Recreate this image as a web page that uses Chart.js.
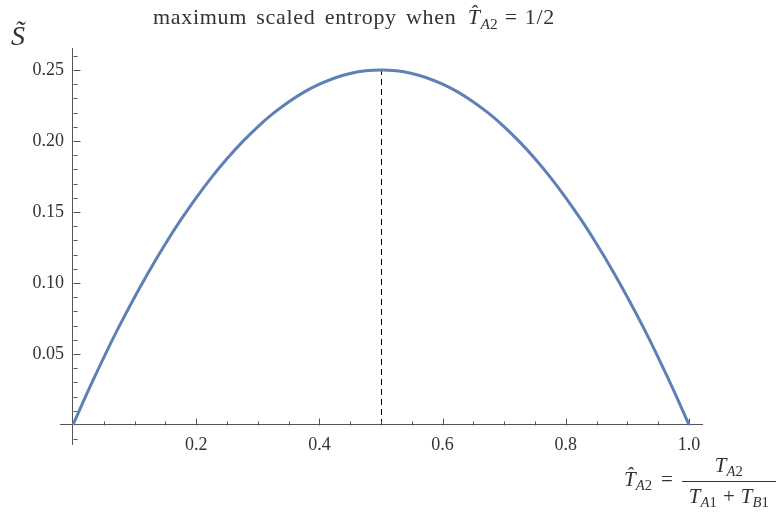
<!DOCTYPE html>
<html>
<head>
<meta charset="utf-8">
<script src="https://cdn.jsdelivr.net/npm/chart.js@4.4.1/dist/chart.umd.min.js"></script>
<style>
  body { margin: 0; background: #fff; }
  #wrap { position: relative; width: 778px; height: 516px; font-family: "Liberation Serif", serif; color: #333; }
  #myChart { position: absolute; left: 0; top: 0; }
  .lbl { position: absolute; white-space: nowrap; }
  .m { font-style: italic; }
  .op { display: inline-block; margin: 0 7px; }
  sub { font-size: 70%; vertical-align: -0.3em; line-height: 0; letter-spacing: 0; }
  .frac { display: inline-block; vertical-align: middle; text-align: center; }
  .frac .num { display: block; padding: 0 7px 3px; }
  .frac .den { display: block; border-top: 1px solid #333; padding: 2px 7px 0; }
</style>
</head>
<body>
<div id="wrap">
  <canvas id="myChart" width="778" height="516"></canvas>
  <div class="lbl" style="left:153px; top:4px; font-size:22px; letter-spacing:0.7px; word-spacing:3px;">maximum scaled entropy when <span class="m" style="margin-left:2px">T̂</span><sub><span class="m">A</span>2</sub><span class="op">=</span>1/2</div>
  <div class="lbl m" style="left:11px; top:20px; font-size:28px;">S̃</div>
  <div class="lbl" style="left:624px; top:453px; font-size:21px;">
    <span class="m">T̂</span><sub><span class="m">A</span>2</sub><span class="op" style="margin:0 9px">=</span><span class="frac"><span class="num"><span class="m">T</span><sub><span class="m">A</span>2</sub></span><span class="den"><span class="m">T</span><sub><span class="m">A</span>1</sub><span class="op" style="margin:0 6px">+</span><span class="m">T</span><sub><span class="m">B</span>1</sub></span></span>
  </div>
</div>
<script>
// values
const xValues = [0, 0.025, 0.05, 0.075, 0.1, 0.125, 0.15, 0.175, 0.2, 0.225, 0.25,
                 0.275, 0.3, 0.325, 0.35, 0.375, 0.4, 0.425, 0.45, 0.475, 0.5,
                 0.525, 0.55, 0.575, 0.6, 0.625, 0.65, 0.675, 0.7, 0.725, 0.75,
                 0.775, 0.8, 0.825, 0.85, 0.875, 0.9, 0.925, 0.95, 0.975, 1.0];
const yValues = [0, 0.0244, 0.0475, 0.0694, 0.09, 0.1094, 0.1275, 0.1444, 0.16, 0.1744, 0.1875,
                 0.1994, 0.21, 0.2194, 0.2275, 0.2344, 0.24, 0.2444, 0.2475, 0.2494, 0.25,
                 0.2494, 0.2475, 0.2444, 0.24, 0.2344, 0.2275, 0.2194, 0.21, 0.1994, 0.1875,
                 0.1744, 0.16, 0.1444, 0.1275, 0.1094, 0.09, 0.0694, 0.0475, 0.0244, 0];
const xTicks = [0, 0.2, 0.4, 0.6, 0.8, 1.0];
const yTicks = [0, 0.05, 0.1, 0.15, 0.2, 0.25];
const peakX = 0.5;
const peakY = 0.25;

const axisColor = '#555';

// dashed marker at the peak + inward tick marks (major and minor)
const tickPlugin = {
  id: 'ticks',
  beforeDatasetsDraw(chart) {
    const {ctx, scales: {x, y}} = chart;
    ctx.save();
    ctx.strokeStyle = '#000';
    ctx.lineWidth = 1;
    ctx.setLineDash([6, 4]);
    ctx.beginPath();
    ctx.moveTo(Math.round(x.getPixelForValue(peakX)) + 0.5, y.getPixelForValue(0));
    ctx.lineTo(Math.round(x.getPixelForValue(peakX)) + 0.5, y.getPixelForValue(peakY));
    ctx.stroke();
    ctx.restore();

    ctx.save();
    ctx.strokeStyle = axisColor;
    ctx.lineWidth = 1;
    const y0 = Math.round(y.getPixelForValue(0)) + 0.5;
    const x0 = Math.round(x.getPixelForValue(0)) + 0.5;
    ctx.beginPath();
    for (let i = 1; i <= 20; i++) {
      const px = Math.round(x.getPixelForValue(i * 0.05)) + 0.5;
      const len = i % 4 === 0 ? 7 : 4;
      ctx.moveTo(px, y0);
      ctx.lineTo(px, y0 - len);
    }
    for (let i = -1; i <= 26; i++) {
      if (i === 0) continue;
      const py = Math.round(y.getPixelForValue(i * 0.01)) + 0.5;
      const len = i % 5 === 0 ? 7 : 4;
      ctx.moveTo(x0, py);
      ctx.lineTo(x0 + len, py);
    }
    ctx.stroke();
    ctx.restore();
  }
};

new Chart("myChart", {
  type: "line",
  data: {
    labels: xValues,
    datasets: [{
      data: xValues.map((v, i) => ({x: v, y: yValues[i]})),
      borderColor: "#5e81b5",
      borderWidth: 3,
      pointRadius: 0,
      fill: false,
      cubicInterpolationMode: 'monotone'
    }]
  },
  plugins: [tickPlugin],
  options: {
    responsive: false,
    animation: false,
    layout: {
      padding: {left: 60, right: 76, top: 48, bottom: 72}
    },
    plugins: {
      legend: {display: false},
      tooltip: {enabled: false}
    },
    scales: {
      x: {
        type: 'linear',
        position: {y: 0},
        min: -0.021,
        max: 1.021,
        afterBuildTicks: (s) => { s.ticks = xTicks.map(v => ({value: v})); },
        grid: {display: false, drawTicks: false},
        border: {display: true, color: axisColor, width: 1},
        ticks: {
          color: '#333',
          padding: 9,
          maxRotation: 0,
          font: {family: 'Liberation Serif', size: 18},
          callback: (v) => v === 0 ? '' : v.toFixed(1)
        }
      },
      y: {
        type: 'linear',
        position: {x: 0},
        min: -0.0134,
        max: 0.2655,
        afterBuildTicks: (s) => { s.ticks = yTicks.map(v => ({value: v})); },
        grid: {display: false, drawTicks: false},
        border: {display: true, color: axisColor, width: 1},
        ticks: {
          color: '#333',
          font: {family: 'Liberation Serif', size: 18},
          // en space pushes the right-aligned label off the axis line
          callback: (v) => v === 0 ? '' : v.toFixed(2) + '\u2002'
        }
      }
    }
  }
});
</script>
</body>
</html>
